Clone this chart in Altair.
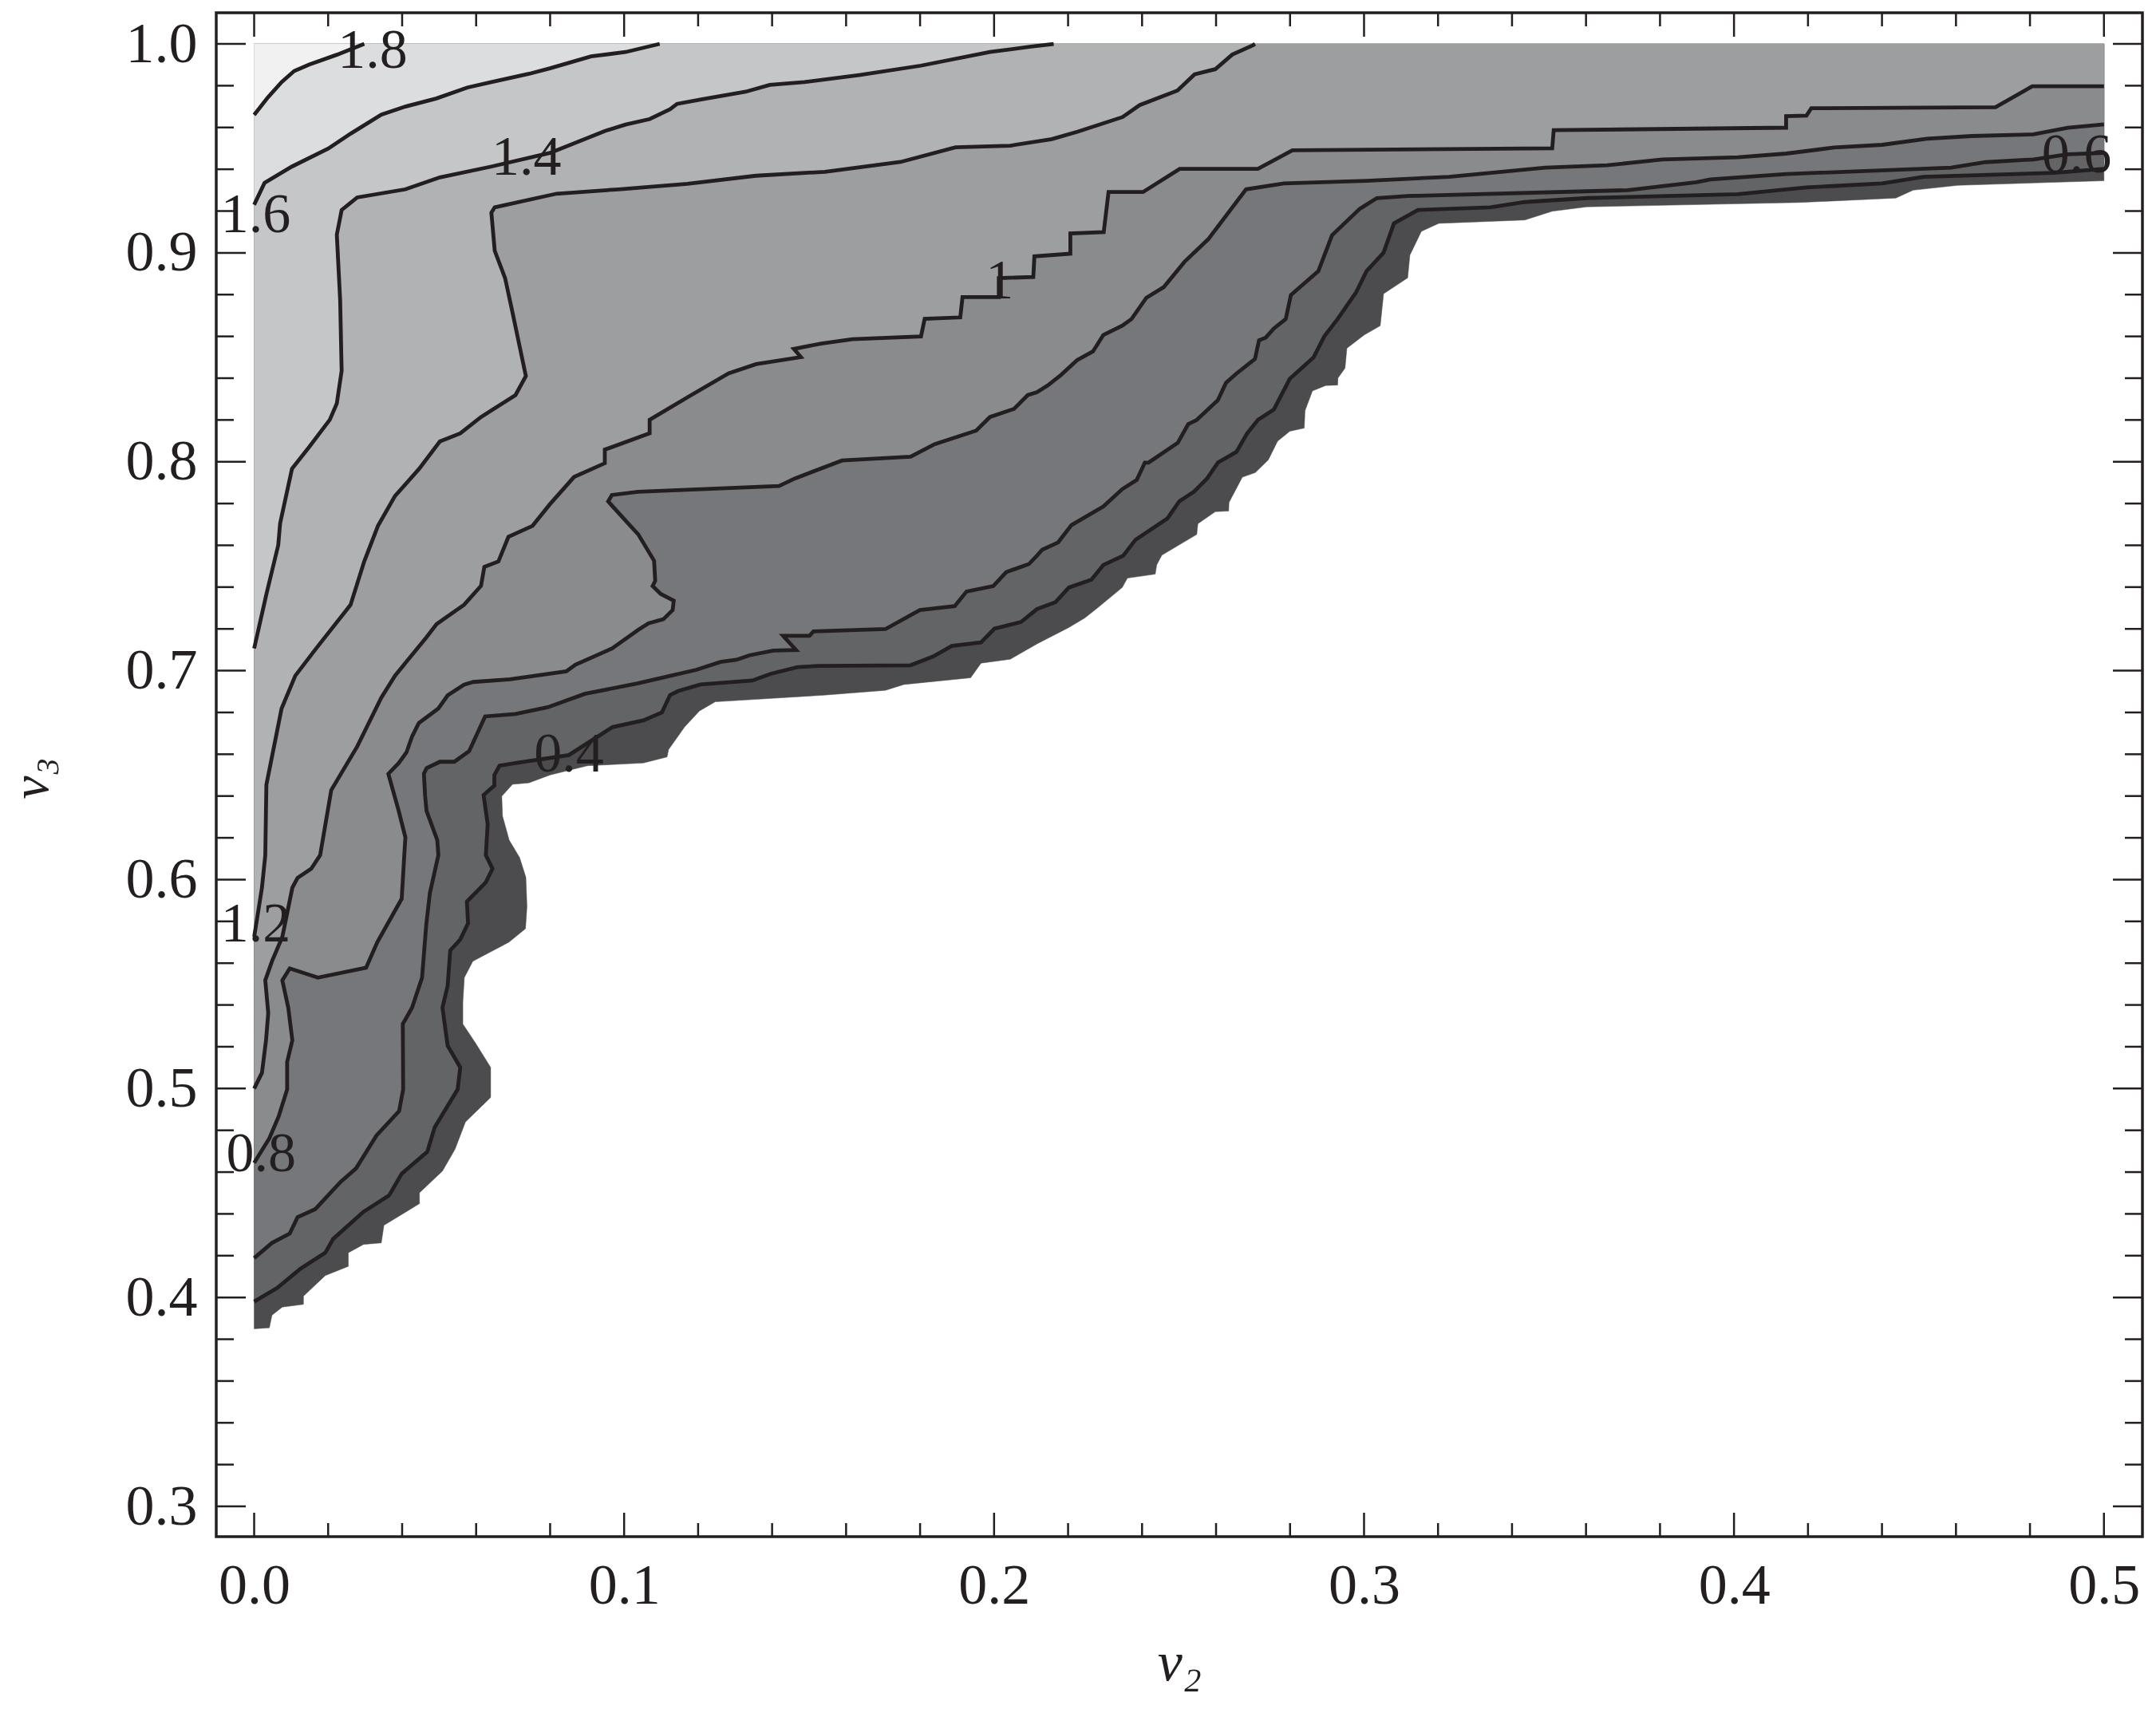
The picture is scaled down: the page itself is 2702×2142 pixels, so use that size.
import altair as alt
import pandas as pd

INK = "#231f20"
FONT = "Liberation Serif"

C18 = [(0,.966),(.0037,.9744),(.0074,.9817),(.0108,.987),(.0148,.9901),(.0223,.9948),(.0297,1.0)]
C16 = [(0,.923),(.0028,.9335),(.0102,.9413),(.02,.9499),(.026,.957),(.0343,.9661),(.0408,.97),(.0492,.9739),
       (.0575,.9791),(.064,.9817),(.0742,.9857),(.0798,.9883),(.0909,.994),(.1002,.9961),(.1094,1.0)]
C14 = [(0,.7106),(.0033,.7366),(.0065,.7601),(.007,.7705),(.0102,.7966),(.0148,.807),(.0204,.8201),(.0223,.8279),
       (.0236,.8435),(.0232,.8774),(.0223,.9087),(.0236,.9205),(.0278,.9265),(.0408,.9304),(.0501,.9361),(.064,.9413),
       (.0798,.9478),(.0946,.9583),(.1002,.9614),(.1067,.964),(.1122,.9687),(.1141,.9713),(.1206,.9734),(.1326,.9771),
       (.1391,.9804),(.1484,.9817),(.1632,.9851),(.1799,.9896),(.1985,.9961),(.2096,.9987),(.2157,1.0)]
C12 = [(0,.5726),(.0007,.5804),(.0021,.5961),(.0030,.6117),(.0033,.6454),(.0074,.6819),(.0111,.6976),(.0167,.7106),
       (.0260,.7315),(.0297,.7523),(.0334,.7693),(.0380,.7836),(.0445,.7966),(.0501,.8097),(.0556,.8136),(.0612,.8214),
       (.0705,.8319),(.0733,.8410),(.0696,.8723),(.0677,.8879),(.0649,.9010),(.0640,.9192),(.0649,.9218),(.0816,.9283),
       (.0983,.9304),(.1169,.9330),(.1354,.9369),(.1540,.9388),(.1744,.9435),(.1892,.9505),(.2040,.9513),(.2152,.9544),
       (.2222,.9580),(.2343,.9650),(.2389,.9707),(.2491,.9777),(.2537,.9854),(.2593,.9879),(.2639,.9949),(.2695,.9994),(.2700,1.0)]
C10 = [(0,.5),(.0021,.5075),(.0032,.5231),(.0038,.5361),(.0030,.5518),(.0048,.5609),(.0076,.5726),(.0103,.5961),
       (.0117,.6008),(.0154,.6052),(.0178,.6117),(.0208,.6428),(.0278,.6637),(.0343,.6871),(.0380,.6976),(.0464,.7158),
       (.0492,.7223),(.0566,.7315),(.0612,.7406),(.0621,.7497),(.0659,.7523),(.0686,.7641),(.0751,.7693),(.0798,.7797),
       (.0863,.7927),(.0946,.7993),(.0946,.8058),(.1067,.8136),(.1067,.8201),(.1178,.8318),(.1280,.8423),(.1354,.8467),
       (.1475,.8501),(.1456,.8540),(.1530,.8566),(.1614,.8587),(.1799,.8600),(.1809,.8684),(.1905,.8691),(.1911,.8788),
       (.2009,.8788),(.2009,.8879),(.2102,.8884),(.2105,.8983),(.2202,.8996),(.2202,.9093),(.2292,.9099),(.2305,.9291),
       (.2398,.9291),(.2497,.9402),(.2708,.9402),(.2801,.9491),(.3502,.9500),(.3506,.9587),(.4133,.9599),(.4133,.9654),
       (.4188,.9657),(.4201,.9692),(.4698,.9697),(.4797,.9797),(.5,.9797)]
C08 = [(0,.4644),(.0041,.4762),(.0066,.4866),(.0089,.4996),(.0089,.5127),(.0103,.5231),(.0092,.5387),(.0076,.5518),
       (.0096,.5575),(.0172,.5531),(.0302,.5578),(.0332,.5700),(.0398,.5908),(.0405,.6117),(.0408,.6202),(.0390,.6329),
       (.0362,.6506),(.0390,.6558),(.0411,.6609),(.0426,.6685),(.0444,.6749),(.0497,.6819),(.0522,.6882),(.0566,.6933),
       (.0591,.6946),(.0691,.6959),(.0842,.6997),(.0867,.7029),(.0965,.7106),(.1036,.7195),(.1064,.7227),(.1104,.7246),
       (.1129,.7290),(.1132,.7335),(.1097,.7367),(.1075,.7405),(.1082,.7430),(.1079,.7526),(.1036,.7653),(.1015,.7693),
       (.0955,.7810),(.0965,.7841),(.1036,.7856),(.1416,.7884),(.1459,.7920),(.1586,.8006),(.1771,.8024),(.1836,.8084),
       (.1948,.8149),(.1985,.8214),(.2050,.8253),(.2087,.8319),(.2112,.8333),(.2141,.8365),(.2177,.8416),(.2220,.8486),
       (.2263,.8528),(.2291,.8607),(.2342,.8651),(.2367,.8683),(.2407,.8785),(.2454,.8836),(.2510,.8957),(.2574,.9065),
       (.2676,.9304),(.2778,.9332),(.3001,.9345),(.3224,.9364),(.3483,.9408),(.3650,.9419),(.3799,.9447),(.4003,.9457),
       (.4133,.9475),(.4262,.9504),(.4392,.9517),(.4513,.9546),(.4633,.9559),(.4800,.9567),(.4893,.9599),(.5,.9615)]
C06 = [(0,.4188),(.0048,.4261),(.0096,.4306),(.0117,.4384),(.0165,.4423),(.0233,.4553),(.0275,.4618),(.0330,.4775),
       (.0391,.4892),(.0402,.4996),(.0401,.5309),(.0426,.5387),(.0453,.5531),(.0464,.5778),(.0474,.5935),(.0497,.6117),
       (.0494,.6189),(.0465,.6329),(.0461,.6405),(.0458,.6507),(.0465,.6533),(.0501,.6564),(.0540,.6564),(.0580,.6615),
       (.0623,.6781),(.0705,.6793),(.0792,.6825),(.0892,.6889),(.1036,.6940),(.1115,.6972),(.1193,.7004),(.1258,.7042),
       (.1301,.7052),(.1337,.7074),(.1401,.7096),(.1462,.7099),(.1427,.7167),(.1498,.7167),(.1509,.7188),(.1703,.7199),
       (.1796,.7290),(.1890,.7309),(.1922,.7379),(.1994,.7405),(.2029,.7472),(.2090,.7510),(.2112,.7551),(.2126,.7579),
       (.2169,.7614),(.2205,.7697),(.2291,.7786),(.2342,.7869),(.2381,.7913),(.2403,.7996),(.2413,.7996),(.2492,.8091),
       (.2520,.8180),(.2543,.8200),(.2600,.8295),(.2622,.8378),(.2650,.8422),(.2700,.8492),(.2711,.8581),(.2729,.8594),
       (.2751,.8638),(.2783,.8683),(.2797,.8798),(.2871,.8912),(.2908,.9084),(.2983,.9211),(.3029,.9262),(.3112,.9272),
       (.3706,.9300),(.3891,.9338),(.3929,.9351),(.4133,.9377),(.4578,.9408),(.4671,.9434),(.4800,.9447),(.4893,.9472),(.5,.9478)]
C04 = [(0,.3980),(.0062,.4045),(.0124,.4136),(.0192,.4214),(.0213,.4280),(.0295,.4410),(.0364,.4488),(.0398,.4592),
       (.0467,.4697),(.0487,.4814),(.0549,.4996),(.0556,.5101),(.0522,.5205),(.0508,.5387),(.0522,.5492),(.0529,.5661),
       (.0556,.5713),(.0577,.5791),(.0574,.5895),(.0625,.5987),(.0643,.6052),(.0625,.6117),(.0630,.6265),(.0619,.6405),
       (.0648,.6450),(.0648,.6501),(.0662,.6545),(.0705,.6558),(.0849,.6596),(.0967,.6730),(.1050,.6762),(.1100,.6800),
       (.1122,.6883),(.1143,.6902),(.1204,.6934),(.1344,.6953),(.1394,.6985),(.1466,.7017),(.1523,.7023),(.1771,.7026),
       (.1832,.7068),(.1882,.7118),(.1961,.7135),(.1997,.7201),(.2069,.7233),(.2112,.7295),(.2162,.7328),(.2198,.7398),
       (.2259,.7436),(.2291,.7506),(.2345,.7551),(.2378,.7627),(.2464,.7729),(.2496,.7811),(.2535,.7856),(.2571,.7920),
       (.2600,.7996),(.2650,.8047),(.2679,.8136),(.2708,.8200),(.2751,.8250),(.2794,.8397),(.2858,.8499),(.2887,.8600),
       (.2923,.8683),(.2973,.8811),(.3001,.8912),(.3047,.9001),(.3075,.9141),(.3140,.9205),(.3335,.9218),(.3428,.9243),
       (.3595,.9262),(.4003,.9281),(.4188,.9313),(.4392,.9332),(.4504,.9364),(.4856,.9383),(.5,.9402)]
OUTER = [(0,.3850),(.0041,.3855),(.0048,.3915),(.0076,.3954),(.0133,.3967),(.0133,.4006),(.0192,.4105),(.0254,.4149),
         (.0254,.4214),(.0295,.4254),(.0343,.4261),(.0350,.4345),(.0446,.4449),(.0446,.4501),(.0508,.4605),(.0542,.4710),
         (.0570,.4840),(.0638,.4957),(.0638,.5101),(.0597,.5218),(.0563,.5309),(.0563,.5413),(.0567,.5531),(.0590,.5609),
         (.0687,.5700),(.0732,.5765),(.0736,.5871),(.0733,.6011),(.0716,.6106),(.0688,.6189),(.0670,.6304),(.0668,.6399),
         (.0697,.6456),(.0741,.6463),(.0799,.6501),(.0899,.6545),(.1050,.6558),(.1114,.6587),(.1118,.6622),(.1161,.6730),
         (.1201,.6807),(.1244,.6851),(.1538,.6883),(.1703,.6906),(.1753,.6934),(.1933,.6966),(.1961,.7036),(.2040,.7055),
         (.2112,.7128),(.2198,.7207),(.2241,.7252),(.2277,.7303),(.2342,.7398),(.2356,.7443),(.2431,.7462),(.2435,.7506),
         (.2449,.7553),(.2543,.7652),(.2546,.7703),(.2593,.7761),(.2629,.7764),(.2630,.7805),(.2666,.7926),(.2701,.7948),
         (.2736,.8009),(.2761,.8098),(.2794,.8146),(.2833,.8161),(.2835,.8244),(.2855,.8339),(.2891,.8365),(.2923,.8367),
         (.2924,.8401),(.2943,.8448),(.2948,.8543),(.2995,.8607),(.3038,.8651),(.3047,.8804),(.3112,.8880),(.3118,.8989),
         (.3149,.9103),(.3196,.9141),(.3428,.9157),(.3502,.9199),(.3595,.9220),(.4170,.9241),(.4429,.9262),(.4476,.9300),
         (.4596,.9323),(.5,.9345)]

CONTOURS = [C04, C06, C08, C10, C12, C14, C16, C18]
SHADES = ["#4c4c4e", "#636466", "#76777a", "#8a8b8d", "#9d9ea0", "#b1b2b4", "#c5c6c8", "#dcddde", "#f1f1f1"]

LABEL_TEXT = ["1.8", "1.6", "1.4", "1.2", "1", "0.8", "0.6", "0.4"]
LABEL_X = [.032, .0004, .0736, .0004, .2015, .0019, .4926, .0851]
LABEL_Y = [.9967, .9178, .9454, .5783, .8862, .4684, .9467, .6599]

X_MAJOR = [0, .1, .2, .3, .4, .5]
X_MINOR = [.02, .04, .06, .08, .12, .14, .16, .18, .22, .24, .26, .28, .32, .34, .36, .38, .42, .44, .46, .48]
Y_MAJOR = [.3, .4, .5, .6, .7, .8, .9, 1.0]
Y_MINOR = [.32, .34, .36, .38, .42, .44, .46, .48, .52, .54, .56, .58, .62, .64, .66, .68,
           .72, .74, .76, .78, .82, .84, .86, .88, .92, .94, .96, .98]

# the coordinates above were read with a slightly wider x ruler; this puts them on the tick ruler
X_RULER = 1.0019

W, H = 2414, 1910
xs = alt.Scale(domain=[-.01025, .5104], nice=False, zero=False)
ys = alt.Scale(domain=[.2855, 1.0149], nice=False, zero=False)
X = alt.X("x:Q", scale=xs, title="v₂", axis=alt.Axis(
    values=X_MAJOR, format=".1f", ticks=False, tickSize=0, domain=False, grid=False, labelOverlap=False,
    labelFont=FONT, labelFontSize=72, labelColor=INK, labelPadding=26, labelFlush=False,
    titleFont=FONT, titleFontStyle="italic", titleFontWeight="normal", titleFontSize=70, titleColor=INK,
    titleBaseline="alphabetic", titleX=1207, titleY=179))
Y = alt.Y("y:Q", scale=ys, title="v₃", axis=alt.Axis(
    values=Y_MAJOR, format=".1f", ticks=False, tickSize=0, domain=False, grid=False, labelOverlap=False,
    labelFont=FONT, labelFontSize=72, labelColor=INK, labelPadding=24, labelFlush=False,
    titleFont=FONT, titleFontStyle="italic", titleFontWeight="normal", titleFontSize=66, titleColor=INK,
    titleBaseline="alphabetic", titleX=-212, titleY=959))


def frame(points):
    return pd.DataFrame({"i": range(len(points)),
                         "x": [min(.5, p[0] * X_RULER) for p in points],
                         "y": [p[1] for p in points]})


def polygon(points, colour):
    return alt.Chart(frame(points)).mark_line(fill=colour, stroke=colour, strokeWidth=0.5).encode(
        x=X, y=Y, order=alt.Order("i:Q"))


layers = [polygon([(0, 1.0)] + OUTER + [(.5, 1.0)], SHADES[0])]

for level, pts in enumerate(CONTOURS):
    closing = [(0, 1.0)] if pts[-1][1] >= 1.0 else [(.5, 1.0), (0, 1.0)]
    layers.append(polygon(pts + closing, SHADES[level + 1]))

for pts in CONTOURS:
    layers.append(alt.Chart(frame(pts)).mark_line(color=INK, strokeWidth=4.8, strokeJoin="miter").encode(
        x=X, y=Y, order=alt.Order("i:Q")))


def xticks(vals, size):
    d = pd.DataFrame({"x": vals})
    bottom = alt.Chart(d).mark_rule(color=INK, strokeWidth=2.5).encode(x=X, y=alt.value(H), y2=alt.value(H - size))
    top = alt.Chart(d).mark_rule(color=INK, strokeWidth=2.5).encode(x=X, y=alt.value(0), y2=alt.value(size))
    return [bottom, top]


def yticks(vals, size):
    d = pd.DataFrame({"y": vals})
    left = alt.Chart(d).mark_rule(color=INK, strokeWidth=2.5).encode(y=Y, x=alt.value(0), x2=alt.value(size))
    right = alt.Chart(d).mark_rule(color=INK, strokeWidth=2.5).encode(y=Y, x=alt.value(W), x2=alt.value(W - size))
    return [left, right]


layers += xticks(X_MAJOR, 30) + xticks(X_MINOR, 17) + yticks(Y_MAJOR, 37) + yticks(Y_MINOR, 22)

labels = pd.DataFrame({"x": LABEL_X, "y": LABEL_Y, "t": LABEL_TEXT})
layers.append(alt.Chart(labels).mark_text(font=FONT, fontSize=70, color=INK, align="center", baseline="middle").encode(
    x=X, y=Y, text="t:N"))

chart = alt.layer(*layers).properties(
    width=W, height=H,
    autosize=alt.AutoSizeParams(type="none"),
    padding={"left": 263, "top": 8, "right": 9, "bottom": 208},
    background="white",
).configure_view(stroke=INK, strokeWidth=3.5)

chart.save("out.html", embed_options={"renderer": "svg", "actions": False})
